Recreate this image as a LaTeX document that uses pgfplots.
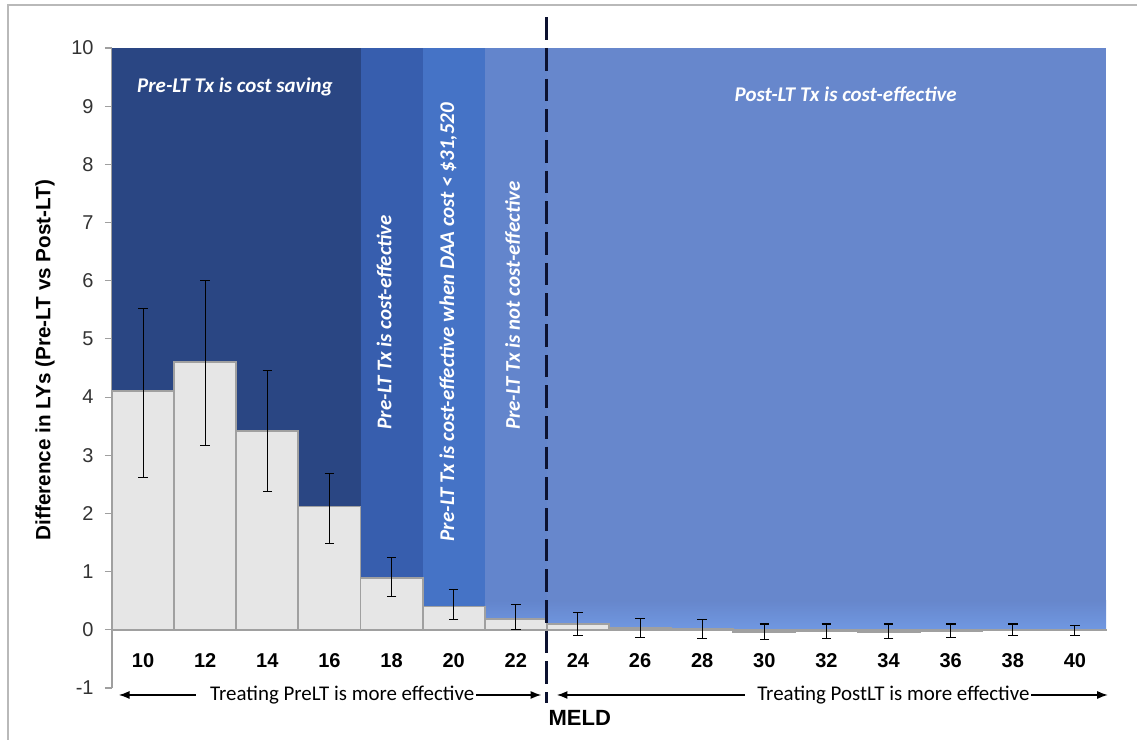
\documentclass[border=0pt]{standalone}
\usepackage{pgfplots}
\pgfplotsset{compat=1.18}
\usepackage{pgfplotstable}
\usepackage{fontspec}
\setmainfont{Liberation Sans}
\newfontfamily\calibri{Carlito}
\usetikzlibrary{arrows.meta}

\definecolor{zoneA}{RGB}{42,70,131}
\definecolor{zoneB}{RGB}{55,94,174}
\definecolor{zoneC}{RGB}{69,115,198}
\definecolor{zoneD}{RGB}{99,133,204}
\definecolor{zoneE}{RGB}{103,135,204}
\definecolor{zoneGlow}{RGB}{112,152,226}
\definecolor{barfill}{RGB}{230,230,230}
\definecolor{baredge}{RGB}{160,160,160}
\definecolor{divider}{RGB}{12,18,48}

% MELD category (0 = 10, 1 = 12, ...), difference in life-years, upper and lower error
\pgfplotstableread{
x  y      ep    em
0  4.10   1.43  1.49
1  4.60   1.41  1.44
2  3.41   1.04  1.03
3  2.12   0.56  0.63
4  0.89   0.36  0.31
5  0.40   0.30  0.22
6  0.19   0.25  0.18
7  0.10   0.20  0.19
8  0.03   0.17  0.16
9  0.01   0.16  0.16
10 -0.04  0.14  0.13
11 -0.02  0.12  0.13
12 -0.03  0.13  0.12
13 -0.02  0.12  0.11
14 -0.01  0.11  0.09
15 -0.01  0.08  0.08
}\meldtable

\begin{document}
\begin{tikzpicture}
\begin{scope}[x=0.75pt,y=0.75pt]
  \useasboundingbox (-112,-51) rectangle (1025,688);
  \draw[gray!55, line width=1.2pt] (-104,-60) -- (-104,683) -- (1030,683);
\end{scope}
\begin{axis}[
  at={(0,0)}, anchor=south west,
  scale only axis, width=745.5pt, height=480pt,
  xmin=-0.5, xmax=15.5, ymin=-1, ymax=10,
  clip=false,
  separate axis lines,
  axis x line*=bottom, axis y line*=left,
  x axis line style={draw=none},
  y axis line style={draw=gray!75, line width=1pt},
  xtick={0,...,15},
  xticklabels={10,12,14,16,18,20,22,24,26,28,30,32,34,36,38,40},
  xtick style={draw=none},
  xticklabel style={font=\bfseries\fontsize{15}{17}\selectfont, anchor=center, yshift=26pt},
  ytick={-1,0,...,10},
  ytick style={draw=gray!75, line width=0.8pt},
  tick align=outside, major tick length=5.25pt,
  yticklabel style={font=\fontsize{15}{17}\selectfont, text=black!80, xshift=-5pt},
  /pgf/number format/assume math mode=true,
]
% cost-effectiveness zones behind the bars
\addplot[draw=none, fill=zoneA] coordinates {(-0.5,0) (3.5,0) (3.5,10) (-0.5,10)} -- cycle;
\addplot[draw=none, fill=zoneB] coordinates {(3.5,0) (4.5,0) (4.5,10) (3.5,10)} -- cycle;
\addplot[draw=none, fill=zoneC] coordinates {(4.5,0) (5.5,0) (5.5,10) (4.5,10)} -- cycle;
\addplot[draw=none, fill=zoneD] coordinates {(5.5,0) (6.5,0) (6.5,10) (5.5,10)} -- cycle;
\addplot[draw=none, fill=zoneE] coordinates {(6.5,0) (15.5,0) (15.5,10) (6.5,10)} -- cycle;
\addplot[draw=none, bottom color=zoneGlow, top color=zoneD] coordinates {(5.5,0) (6.5,0) (6.5,0.5) (5.5,0.5)} -- cycle;
\addplot[draw=none, bottom color=zoneGlow, top color=zoneE] coordinates {(6.5,0) (15.5,0) (15.5,0.5) (6.5,0.5)} -- cycle;

% zero line
\addplot[draw=gray!75, line width=1pt] coordinates {(-0.5,0) (15.5,0)};

% difference in LYs with error bars
\addplot[ybar, bar width=1, fill=barfill, draw=baredge, line width=1.4pt,
  error bars/.cd, y dir=both, y explicit,
  error bar style={black, line width=0.8pt},
  error mark options={rotate=90, mark size=3.6pt, line width=0.8pt}]
  table[x=x, y=y, y error plus=ep, y error minus=em] {\meldtable};

% divider between the two effectiveness zones
\addplot[divider, line width=2.3pt] coordinates {(6.5,10.53) (6.5,10.13)};
\addplot[divider, line width=2.3pt, dash pattern=on 17pt off 6pt] coordinates {(6.5,10.0) (6.5,-1.26)};

% direction arrows below the axis
\addplot[black, line width=1pt, {Latex[length=8pt,width=6pt]}-{Latex[length=8pt,width=6pt]}] coordinates {(-0.39,-1.12) (6.41,-1.12)};
\addplot[black, line width=1pt, {Latex[length=8pt,width=6pt]}-{Latex[length=8pt,width=6pt]}] coordinates {(6.66,-1.12) (15.53,-1.12)};

\node[anchor=west, fill=white, inner sep=1pt, font=\calibri\fontsize{15.7}{17}\selectfont]
  at (axis cs:0.84,-1.12) {\hspace*{10pt}Treating PreLT is more effective};
\node[anchor=west, fill=white, inner sep=1pt, font=\calibri\fontsize{15.7}{17}\selectfont]
  at (axis cs:9.69,-1.12) {\hspace*{8pt}Treating PostLT is more effective};

\node[font=\bfseries\fontsize{16.5}{18}\selectfont] at (axis cs:7.03,-1.52) {MELD};

% zone captions
\node[text=white, font=\calibri\bfseries\itshape\fontsize{15.7}{17}\selectfont]
  at (axis cs:1.48,9.33) {Pre-LT Tx is cost saving};
\node[text=white, font=\calibri\bfseries\itshape\fontsize{15.7}{17}\selectfont]
  at (axis cs:11.31,9.20) {Post-LT Tx is cost-effective};
\node[text=white, rotate=90, font=\calibri\bfseries\itshape\fontsize{15.7}{17}\selectfont]
  at (axis cs:3.88,5.29) {Pre-LT Tx is cost-effective};
\node[text=white, rotate=90, font=\calibri\bfseries\itshape\fontsize{15.7}{17}\selectfont]
  at (axis cs:4.91,5.29) {Pre-LT Tx is cost-effective when DAA cost < \$31,520};
\node[text=white, rotate=90, font=\calibri\bfseries\itshape\fontsize{15.7}{17}\selectfont]
  at (axis cs:5.95,5.57) {Pre-LT Tx is not cost-effective};

\end{axis}
\begin{scope}[x=0.75pt,y=0.75pt]
  \node[rotate=90, font=\bfseries\fontsize{15.5}{17}\selectfont] at (-67,328) {Difference in LYs (Pre-LT vs Post-LT)};
\end{scope}
\end{tikzpicture}
\end{document}
